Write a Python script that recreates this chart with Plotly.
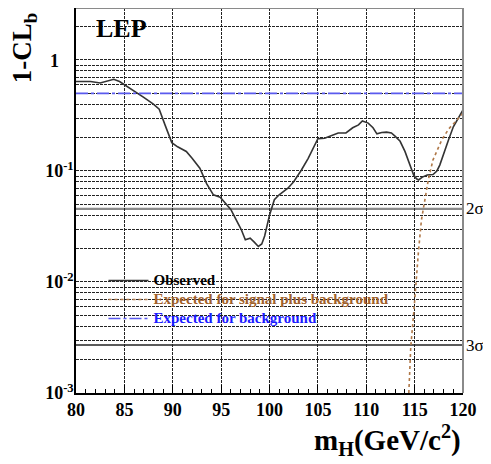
import plotly.graph_objects as go
import math

# ---- data ----
obs_mass = [80.0, 81.0, 81.5, 82.5, 83.3, 83.9, 84.5, 85.0, 86.0, 87.0, 88.0, 88.6, 89.2, 89.9,
            90.5, 91.4, 92.0, 92.8, 93.5, 94.2, 94.9, 95.5, 96.0, 96.8, 97.1, 97.5, 98.0, 98.4,
            98.85, 99.2, 99.5, 100.0, 100.5, 101.0, 101.9, 102.5, 103.3, 104.0, 104.5, 105.0,
            105.7, 106.4, 107.1, 107.9, 108.6, 109.2, 109.6, 110.2, 110.7, 111.1, 111.6, 112.1,
            112.6, 113.0, 113.5, 114.0, 114.5, 114.9, 115.2, 115.4, 115.8, 116.3, 116.9, 117.3,
            117.6, 118.0, 118.5, 119.0, 119.5, 120.0]
obs_clb = [0.64, 0.645, 0.64, 0.62, 0.65, 0.67, 0.64, 0.60, 0.52, 0.46, 0.40, 0.36, 0.26, 0.18,
           0.165, 0.15, 0.13, 0.106, 0.077, 0.061, 0.058, 0.05, 0.045, 0.033, 0.0294, 0.024, 0.0248, 0.023,
           0.0209, 0.022, 0.026, 0.040, 0.055, 0.061, 0.070, 0.080, 0.102, 0.13, 0.16, 0.195,
           0.197, 0.207, 0.22, 0.22, 0.245, 0.26, 0.282, 0.27, 0.245, 0.216, 0.222, 0.224,
           0.22, 0.205, 0.185, 0.15, 0.113, 0.092, 0.085, 0.083, 0.088, 0.092, 0.093, 0.10,
           0.113, 0.145, 0.19, 0.25, 0.30, 0.355]

sb_mass = [114.4, 114.6, 114.9, 115.15, 115.4, 115.7, 116.1, 116.4, 116.9, 117.4, 117.8, 118.5, 119.2, 120.0]
sb_clb = [0.001, 0.0026, 0.0052, 0.0104, 0.019, 0.036, 0.057, 0.082, 0.126, 0.16, 0.19, 0.238, 0.28, 0.33]

b_mass = [80.0, 120.0]
b_clb = [0.5, 0.5]

sigma_levels = [0.0455, 0.0027]
sigma_labels = ["2σ", "3σ"]

x_ticks = [80, 85, 90, 95, 100, 105, 110, 115, 120]
y_decades = [0.001, 0.01, 0.1, 1]
y_decade_labels = ["10<sup>-3</sup>", "10<sup>-2</sup>", "10<sup>-1</sup>", "1"]

SERIF = "Liberation Serif"

# grid positions for the log axis (1..9 x each decade); the "1" label is drawn separately
y_grid = []
y_text = []
for d in y_decades:
    for k in range(1, 10):
        v = round(k * d, 6)
        if v > 3.0001:
            break
        y_grid.append(v)
        y_text.append(y_decade_labels[y_decades.index(d)] if (k == 1 and d < 1) else "")

LEG = "font-size:15px"

fig = go.Figure()

fig.add_trace(go.Scatter(
    x=obs_mass, y=obs_clb, mode="lines",
    name=f"<span style='{LEG}'>Observed</span>",
    line=dict(color="#333333", width=1.6),
))
fig.add_trace(go.Scatter(
    x=sb_mass, y=sb_clb, mode="lines",
    name=f"<span style='{LEG};color:#a0602a'>Expected for signal plus background</span>",
    line=dict(color="#b07848", width=1.6, dash="dot"),
))
fig.add_trace(go.Scatter(
    x=b_mass, y=b_clb, mode="lines",
    name=f"<span style='{LEG};color:#1a1aff'>Expected for background</span>",
    line=dict(color="#5a5aee", width=1.6, dash="12px,3px,3px,3px"),
))

shapes = []
# 2 sigma / 3 sigma lines
shapes.append(dict(type="line", xref="paper", x0=0, x1=1, yref="y", y0=sigma_levels[0], y1=sigma_levels[0],
                   line=dict(color="#8a8a8a", width=2.2), layer="below"))
shapes.append(dict(type="line", xref="paper", x0=0, x1=1, yref="y", y0=sigma_levels[1], y1=sigma_levels[1],
                   line=dict(color="#222222", width=1.5), layer="below"))
# frame: grey top/right
shapes.append(dict(type="path", xref="paper", yref="paper", path="M 0 1 L 1 1 L 1 0",
                   line=dict(color="#8a8a8a", width=2), layer="above"))

annotations = []
for lvl, lab in zip(sigma_levels, sigma_labels):
    annotations.append(dict(xref="paper", x=1, xanchor="left", xshift=1, yref="y", y=math.log10(lvl),
                            yanchor="middle", text=lab, showarrow=False,
                            font=dict(family=SERIF, size=17, color="black")))
# the "1" decade label (ROOT places it left of the other labels' right edge)
annotations.append(dict(xref="paper", x=0, xanchor="right", xshift=-15, yref="y", y=math.log10(y_decades[-1]),
                        yanchor="middle", yshift=-1, text=y_decade_labels[-1], showarrow=False,
                        font=dict(family=SERIF, size=18, color="black", weight="bold")))
annotations.append(dict(xref="paper", x=0.118, yref="paper", y=0.947, xanchor="center", yanchor="middle",
                        text="LEP", showarrow=False,
                        font=dict(family=SERIF, size=26, color="black", weight="bold")))
annotations.append(dict(xref="paper", x=1, xanchor="right", yref="paper", y=-0.18, yanchor="bottom",
                        text="m<sub>H</sub>(GeV/c<sup>2</sup>)", showarrow=False,
                        font=dict(family=SERIF, size=29, color="black", weight="bold")))
annotations.append(dict(xref="paper", x=-0.132, xanchor="center", yref="paper", y=0.995, yanchor="top",
                        text="1-CL<sub>b</sub>", textangle=-90, showarrow=False,
                        font=dict(family=SERIF, size=27, color="black", weight="bold")))

# page has an 8px body margin: figure is sized/placed to compensate
fig.update_layout(
    width=483, height=456,
    margin=dict(l=68, r=28, t=0, b=71),
    paper_bgcolor="white", plot_bgcolor="white",
    showlegend=True,
    legend=dict(x=0.071, y=0.33, xanchor="left", yanchor="top",
                bgcolor="rgba(0,0,0,0)", borderwidth=0, itemwidth=40,
                font=dict(family=SERIF, size=12, color="black", weight="bold"),
                tracegroupgap=0),
    shapes=shapes, annotations=annotations,
    xaxis=dict(range=[80, 120], tickvals=x_ticks, ticktext=[str(t) for t in x_ticks],
               showgrid=True, gridcolor="#222222", gridwidth=1, griddash="3px,1px",
               ticks="inside", ticklen=8, tickcolor="black",
               minor=dict(dtick=1, ticks="inside", ticklen=4, tickcolor="black", showgrid=False),
               showline=True, linecolor="black", linewidth=1.5, zeroline=False,
               tickfont=dict(family=SERIF, size=18, color="black", weight="bold")),
    yaxis=dict(type="log", range=[-3, 0.468], tickvals=y_grid, ticktext=y_text,
               showgrid=True, gridcolor="#222222", gridwidth=1, griddash="3px,1px",
               ticks="", ticklabelstandoff=-3, showline=True, linecolor="black", linewidth=1.5,
               zeroline=False,
               tickfont=dict(family=SERIF, size=18, color="black", weight="bold")),
)

fig.write_html("out.html")
